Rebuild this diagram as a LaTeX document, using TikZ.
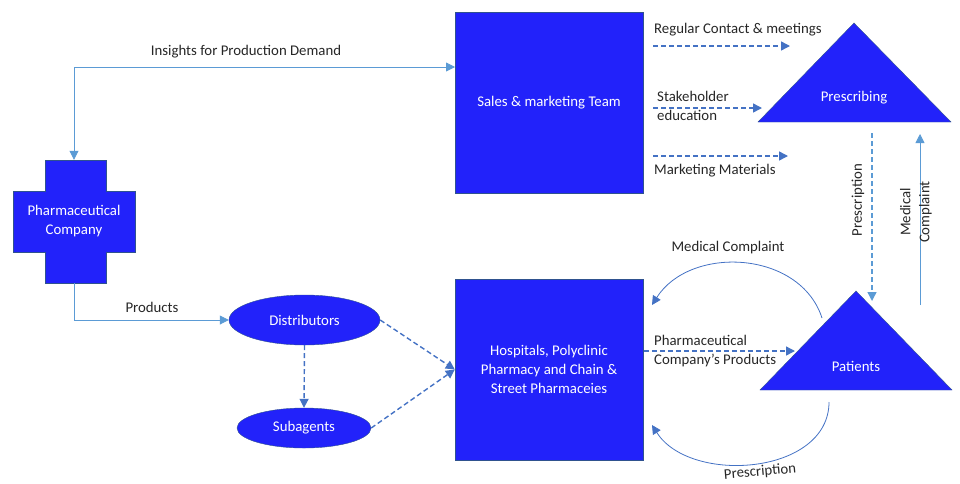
\documentclass[tikz,border=0pt]{standalone}
\usepackage{fontspec}
\setmainfont{Carlito}
\usetikzlibrary{arrows.meta,shapes.geometric}

\definecolor{boxblue}{RGB}{34,34,250}
\definecolor{edgeblue}{RGB}{47,82,143}
\definecolor{linkblue}{RGB}{68,114,196}
\definecolor{lightlink}{RGB}{91,155,213}

\tikzset{
  bluebox/.style={draw=edgeblue, fill=boxblue, text=white, align=center, inner sep=0pt},
  blueell/.style={ellipse, draw=edgeblue, fill=boxblue, text=white, inner sep=0pt},
  dashlink/.style={linkblue, line width=1.4pt, dash pattern=on 5pt off 3pt, -{Triangle[length=9pt,width=9pt]}},
  solidlink/.style={linkblue, line width=0.8pt, -{Triangle[length=9pt,width=9pt]}},
  lbl/.style={text=black!85, inner sep=0pt, align=left},
}

\begin{document}
\begin{tikzpicture}[x=1pt, y=-1pt, font=\fontsize{14.8}{19}\selectfont]
    \useasboundingbox (0,0) rectangle (960,483);

    % cross for the company
    \fill[boxblue, draw=edgeblue] (45,160) -- (106,160) -- (106,191) -- (135,191) -- (135,252)
        -- (106,252) -- (106,283) -- (45,283) -- (45,252) -- (13,252) -- (13,191) -- (45,191) -- cycle;
    \node[minimum width=122, minimum height=123, inner sep=0pt, text=white, align=center] (pharma) at (74,221.5) {Pharmaceutical\\Company};

    \node[bluebox, minimum width=188, minimum height=181] (sales) at (549,102.5) {Sales \& marketing Team};
    \node[bluebox, minimum width=188, minimum height=181] (hosp) at (549,369.5) {Hospitals, Polyclinic\\Pharmacy and Chain \&\\Street Pharmaceies};

    \node[blueell, minimum width=151, minimum height=50] (dist) at (304.5,320) {Distributors};
    \node[blueell, minimum width=134, minimum height=40] (sub) at (304,428) {Subagents};

    % the two triangles
    \fill[boxblue, draw=edgeblue] (854,23) -- (951,122) -- (758,122) -- cycle;
    \node[text=white] (presc) at (854,98) {Prescribing};
    \fill[boxblue, draw=edgeblue] (856,291) -- (952,390) -- (760,390) -- cycle;
    \node[text=white] (pat) at (856,366) {Patients};

    \coordinate (insin) at (455,67);
    \coordinate (rc1) at (653,46);   \coordinate (rc2) at (790,46);
    \coordinate (se1) at (653,108);  \coordinate (se2) at (762,108);
    \coordinate (mm1) at (653,156);  \coordinate (mm2) at (788,156);
    \coordinate (rx1) at (872,133);  \coordinate (rx2) at (872,301);
    \coordinate (mc1) at (920,305);  \coordinate (mc2) at (920,134);
    \coordinate (pp1) at (644,351);  \coordinate (pp2) at (795,351);
    \coordinate (arcA) at (822,318); \coordinate (arcAend) at (652,305);
    \coordinate (arcB) at (829,402); \coordinate (arcBend) at (652,425);

    % solid flows
    \draw[lightlink, line width=0.8pt, {Triangle[length=9pt,width=9pt]}-{Triangle[length=9pt,width=9pt]}]
        (pharma.north) |- (insin);
    \node[lbl] at (246,52) {Insights for Production Demand};
    \draw[solidlink, lightlink] (pharma.south) |- (dist.west);
    \node[lbl] at (152,307) {Products};

    % dashed flows
    \draw[dashlink] (dist.east) -- (hosp.west);
    \draw[dashlink] (sub.east) -- (hosp.west);
    \draw[dashlink] (dist.south) -- (sub.north);

    \draw[dashlink] (rc1) -- (rc2);
    \node[lbl, anchor=west] at (654,30) {Regular Contact \& meetings};
    \draw[dashlink] (se1) -- (se2);
    \node[lbl, anchor=west] at (657,106) {Stakeholder\\education};
    \draw[dashlink] (mm1) -- (mm2);
    \node[lbl, anchor=west] at (654,171) {Marketing Materials};

    \draw[dashlink, lightlink] (rx1) -- (rx2);
    \node[lbl, rotate=90] at (858,200) {Prescription};
    \draw[solidlink, lightlink] (mc1) -- (mc2);
    \node[lbl, rotate=90, align=center] at (916,212) {Medical\\Complaint};

    \draw[dashlink] (pp1) -- (pp2);
    \node[lbl, anchor=west] at (654,351) {Pharmaceutical\\Company's Products};

    % feedback arcs
    \draw[solidlink] (arcA) .. controls (800,250) and (690,245) .. (arcAend);
    \node[lbl] at (728,248) {Medical Complaint};
    \draw[solidlink] (arcB) .. controls (829,475) and (690,485) .. (arcBend);
    \node[lbl, rotate=5] at (760,472) {Prescription};
\end{tikzpicture}
\end{document}
